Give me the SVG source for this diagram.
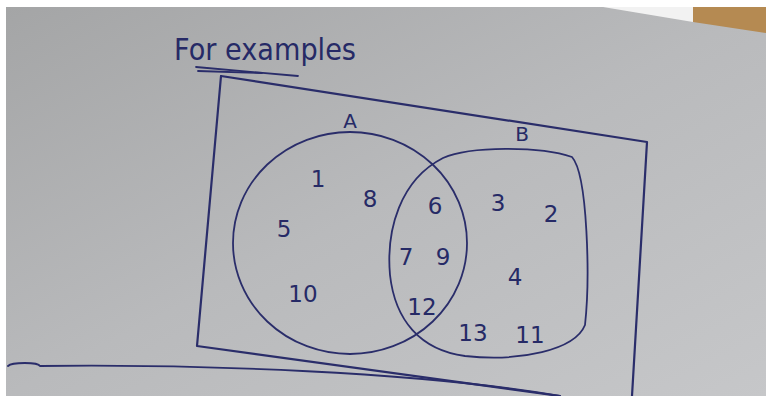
<svg xmlns="http://www.w3.org/2000/svg" width="766" height="396" viewBox="0 0 766 396">
  <defs>
    <linearGradient id="paper" x1="0" y1="0" x2="1" y2="1">
      <stop offset="0" stop-color="#a4a5a6"/>
      <stop offset="0.5" stop-color="#b9babc"/>
      <stop offset="1" stop-color="#c6c7c9"/>
    </linearGradient>
  </defs>
  <style>
    .ink{fill:none;stroke:#2a2d6a;stroke-width:1.8;stroke-linecap:round;stroke-linejoin:round}
    .thick{stroke-width:2.2}
    .num{font-family:"DejaVu Sans","Liberation Sans",sans-serif;font-size:23px;fill:#262a66;text-anchor:middle}
    .lbl{font-family:"DejaVu Sans","Liberation Sans",sans-serif;font-size:20px;fill:#262a66;text-anchor:middle}
    .title{font-family:"DejaVu Sans","Liberation Sans",sans-serif;font-size:30px;fill:#262a66}
  </style>
  <rect x="0" y="0" width="766" height="396" fill="#ffffff"/>
  <rect x="6" y="7" width="760" height="389" fill="url(#paper)"/>
  <polygon points="560,7 603,7 693,22 693,7" fill="#f2f2f2"/>
  <polygon points="693,7 766,7 766,33 693,22" fill="#b58a52"/>
  <g id="title">
    <text class="title" x="174" y="60" textLength="182" lengthAdjust="spacingAndGlyphs">For examples</text>
    <path class="ink" d="M196,67 L298,76"/>
    <path class="ink" d="M198,71 L262,73"/>
  </g>
  <g id="universe">
    <path class="ink thick" d="M221,76 L647,142 L632,396"/>
    <path class="ink thick" d="M221,76 L197,346 L560,396"/>
    <path class="ink" d="M8,366 C12,362 38,362 40,366 C200,364 420,372 560,396"/>
  </g>
  <g id="setA">
    <ellipse class="ink" cx="350" cy="243" rx="117" ry="111"/>
    <text class="lbl" x="350" y="128">A</text>
    <text class="num" x="318" y="187">1</text>
    <text class="num" x="370" y="207">8</text>
    <text class="num" x="284" y="237">5</text>
    <text class="num" x="303" y="302">10</text>
  </g>
  <g id="setB">
    <path class="ink" d="M443,158 C470,146 540,146 572,157 C588,175 590,280 585,325 C575,350 520,362 465,356 C420,350 395,320 390,275 C386,230 400,180 443,158 Z"/>
    <text class="lbl" x="522" y="141">B</text>
    <text class="num" x="435" y="214">6</text>
    <text class="num" x="406" y="265">7</text>
    <text class="num" x="443" y="265">9</text>
    <text class="num" x="422" y="315">12</text>
    <text class="num" x="498" y="211">3</text>
    <text class="num" x="551" y="222">2</text>
    <text class="num" x="515" y="285">4</text>
    <text class="num" x="473" y="341">13</text>
    <text class="num" x="530" y="343">11</text>
  </g>
  <g id="connectors"/>
</svg>
